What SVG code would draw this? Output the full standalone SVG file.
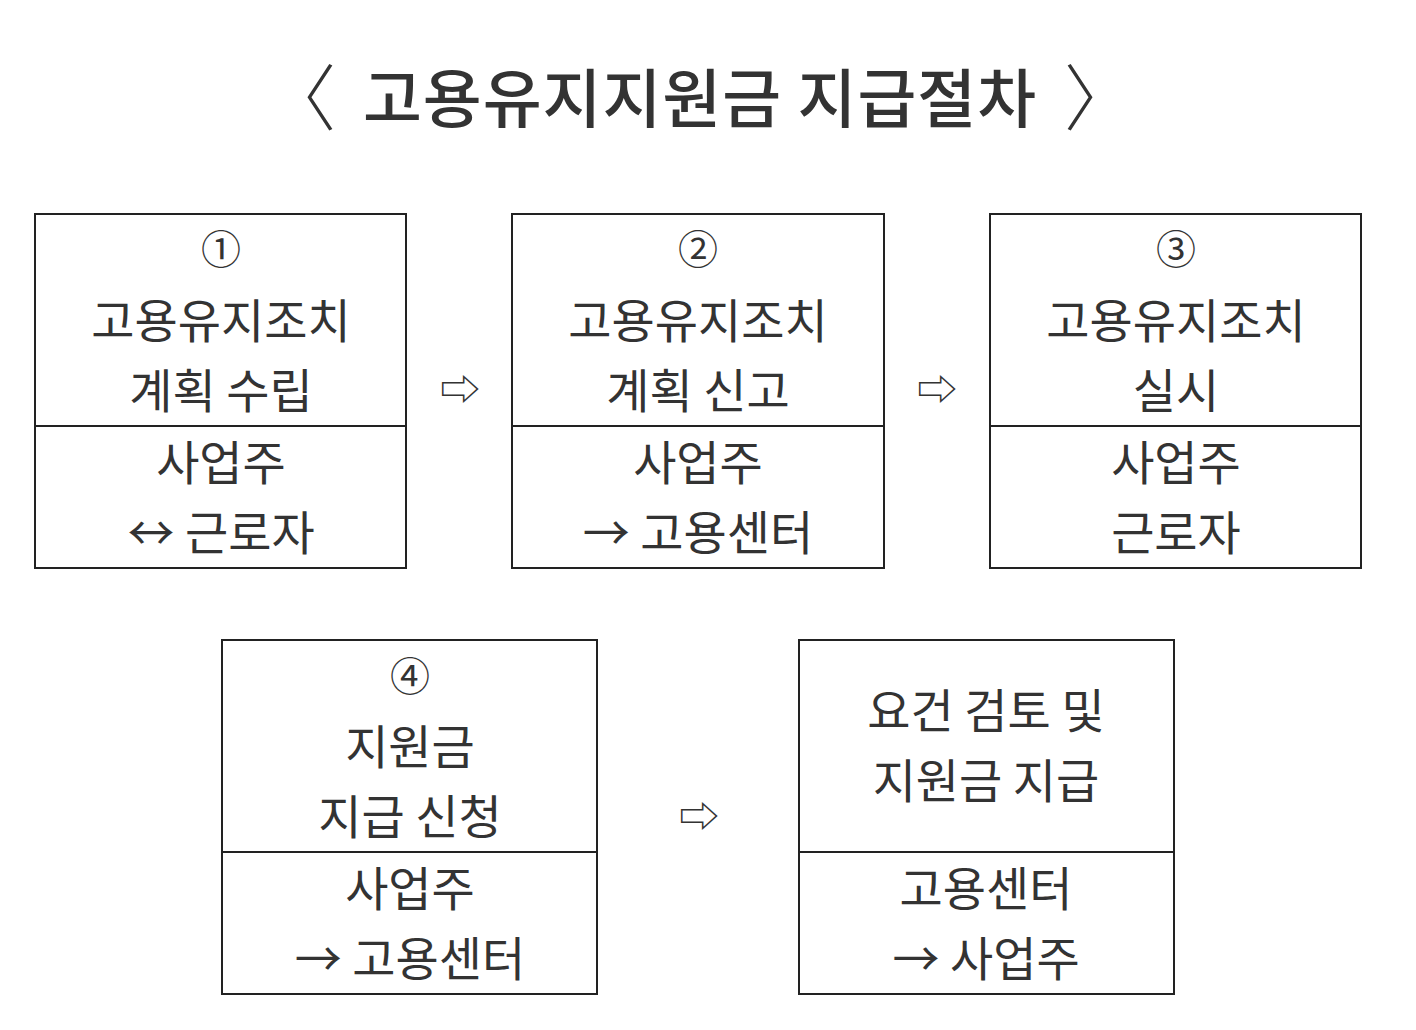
<svg xmlns="http://www.w3.org/2000/svg" width="1416" height="1030" viewBox="0 0 1416 1030">
<style>
text{font-family:"Noto Sans CJK KR","Noto Sans",sans-serif;fill:#333;text-anchor:middle}
.t{font-size:47px}
.c{font-size:40px}
.a{font-size:40px}
rect{fill:#fff;stroke:#222;stroke-width:2}
line{stroke:#222;stroke-width:2}
</style>
<rect x="0" y="0" width="1416" height="1030" style="stroke:none"/>
<text x="700" y="122" style="font-size:64px;font-weight:500;letter-spacing:1px">고용유지지원금 지급절차</text>
<text x="300" y="124" style="font-size:72px;font-weight:300">〈</text>
<text x="1100" y="124" style="font-size:72px;font-weight:300">〉</text>
<g id="n1"><rect x="35" y="214" width="371" height="354"/><line x1="35" y1="426" x2="406" y2="426"/>
<text x="221" y="264" class="c">①</text><text x="221" y="338" class="t">고용유지조치</text><text x="221" y="408" class="t">계획 수립</text><text x="221" y="480" class="t">사업주</text><text x="221" y="550" class="t">↔ 근로자</text></g>
<g id="n2"><rect x="512" y="214" width="372" height="354"/><line x1="512" y1="426" x2="884" y2="426"/>
<text x="698" y="264" class="c">②</text><text x="698" y="338" class="t">고용유지조치</text><text x="698" y="408" class="t">계획 신고</text><text x="698" y="480" class="t">사업주</text><text x="698" y="550" class="t">→ 고용센터</text></g>
<g id="n3"><rect x="990" y="214" width="371" height="354"/><line x1="990" y1="426" x2="1361" y2="426"/>
<text x="1176" y="264" class="c">③</text><text x="1176" y="338" class="t">고용유지조치</text><text x="1176" y="408" class="t">실시</text><text x="1176" y="480" class="t">사업주</text><text x="1176" y="550" class="t">근로자</text></g>
<g id="n4"><rect x="222" y="640" width="375" height="354"/><line x1="222" y1="852" x2="597" y2="852"/>
<text x="410" y="691" class="c">④</text><text x="410" y="764" class="t">지원금</text><text x="410" y="834" class="t">지급 신청</text><text x="410" y="906" class="t">사업주</text><text x="410" y="976" class="t">→ 고용센터</text></g>
<g id="n5"><rect x="799" y="640" width="375" height="354"/><line x1="799" y1="852" x2="1174" y2="852"/>
<text x="986" y="728" class="t">요건 검토 및</text><text x="986" y="798" class="t">지원금 지급</text><text x="986" y="906" class="t">고용센터</text><text x="986" y="976" class="t">→ 사업주</text></g>
<g id="connectors"><text x="460" y="404" class="a">⇨</text><text x="937" y="404" class="a">⇨</text><text x="699" y="831" class="a">⇨</text></g>
</svg>
